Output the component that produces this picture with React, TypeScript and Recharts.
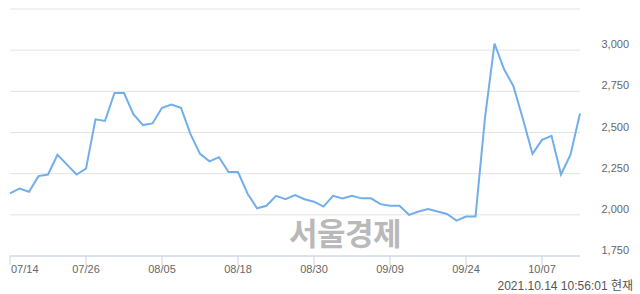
import React from "react";
import { LineChart, Line, XAxis, YAxis, CartesianGrid } from "recharts";

const dates = [
  "07/14", "07/15", "07/16", "07/19", "07/20", "07/21", "07/22", "07/23",
  "07/26", "07/27", "07/28", "07/29", "07/30", "08/02", "08/03", "08/04",
  "08/05", "08/06", "08/09", "08/10", "08/11", "08/12", "08/13", "08/17",
  "08/18", "08/19", "08/20", "08/23", "08/24", "08/25", "08/26", "08/27",
  "08/30", "08/31", "09/01", "09/02", "09/03", "09/06", "09/07", "09/08",
  "09/09", "09/10", "09/13", "09/14", "09/15", "09/16", "09/17", "09/23",
  "09/24", "09/27", "09/28", "09/29", "09/30", "10/01", "10/05", "10/06",
  "10/07", "10/08", "10/12", "10/13", "10/14",
];

const prices = [
  2130, 2160, 2140, 2235, 2245, 2365, 2305, 2245,
  2280, 2580, 2570, 2740, 2740, 2610, 2545, 2555,
  2650, 2670, 2650, 2490, 2370, 2325, 2350, 2260,
  2260, 2130, 2040, 2055, 2115, 2095, 2120, 2095,
  2080, 2050, 2115, 2100, 2115, 2100, 2100, 2065,
  2055, 2055, 2000, 2020, 2035, 2020, 2005, 1965,
  1990, 1990, 2590, 3040, 2885, 2780, 2580, 2370,
  2455, 2480, 2245, 2365, 2615,
];

const xTicks = ["07/14", "07/26", "08/05", "08/18", "08/30", "09/09", "09/24", "10/07"];
const yTicks = [1750, 2000, 2250, 2500, 2750, 3000, 3250];
const yLabelTicks = [1750, 2000, 2250, 2500, 2750, 3000];
const stampText = "2021.10.14 10:56:01 현재";
const watermarkText = "서울경제";

const data = dates.map((d, i) => ({ date: d, price: prices[i] }));

const FONT = "'Liberation Sans', 'Noto Sans CJK KR', sans-serif";

const XTick = (props: any) => {
  const { x, y, payload, index } = props;
  return (
    <text
      x={index === 0 ? x + 1 : x}
      y={y}
      dy={6}
      textAnchor={index === 0 ? "start" : "middle"}
      fontSize={11}
      fontFamily={FONT}
      fill="#666"
    >
      {payload.value}
    </text>
  );
};

const YTick = (props: any) => {
  const { y, payload } = props;
  if (!yLabelTicks.includes(payload.value)) return null;
  return (
    <text
      x={629}
      y={y}
      dy={-2}
      textAnchor="end"
      fontSize={11}
      fontFamily={FONT}
      fill="#666"
    >
      {payload.value.toLocaleString("en-US")}
    </text>
  );
};

export default function App() {
  return (
    <div style={{ position: "absolute", left: 0, top: 0, width: 640, height: 294, background: "#fff" }}>
      <div
        style={{
          position: "absolute",
          left: 289,
          top: 212,
          fontSize: 31,
          fontWeight: 700,
          fontFamily: "'Noto Sans CJK KR', sans-serif",
          color: "#b9b9b9",
          lineHeight: "40px",
          letterSpacing: -0.5,
          whiteSpace: "nowrap",
        }}
      >
        {watermarkText}
      </div>
      <div style={{ position: "absolute", left: 0, top: 0 }}>
        <LineChart
          width={640}
          height={294}
          data={data}
          margin={{ top: 9, right: 0, left: 10, bottom: 8 }}
        >
          <CartesianGrid vertical={false} stroke="#e3e3e3" strokeWidth={1} />
          <XAxis
            dataKey="date"
            ticks={xTicks}
            interval={0}
            height={30}
            axisLine={{ stroke: "#c6d4ea" }}
            tickLine={{ stroke: "#c6d4ea" }}
            tickSize={9}
            tick={<XTick />}
          />
          <YAxis
            orientation="right"
            domain={[1750, 3250]}
            ticks={yTicks}
            width={60}
            axisLine={false}
            tickLine={false}
            tick={<YTick />}
          />
          <Line
            type="linear"
            dataKey="price"
            stroke="#72aeea"
            strokeWidth={2}
            dot={false}
            isAnimationActive={false}
          />
        </LineChart>
      </div>
      <div
        style={{
          position: "absolute",
          right: 7,
          top: 278,
          fontSize: 12,
          fontFamily: FONT,
          color: "#555",
          whiteSpace: "nowrap",
          lineHeight: "16px",
        }}
      >
        {stampText}
      </div>
    </div>
  );
}
